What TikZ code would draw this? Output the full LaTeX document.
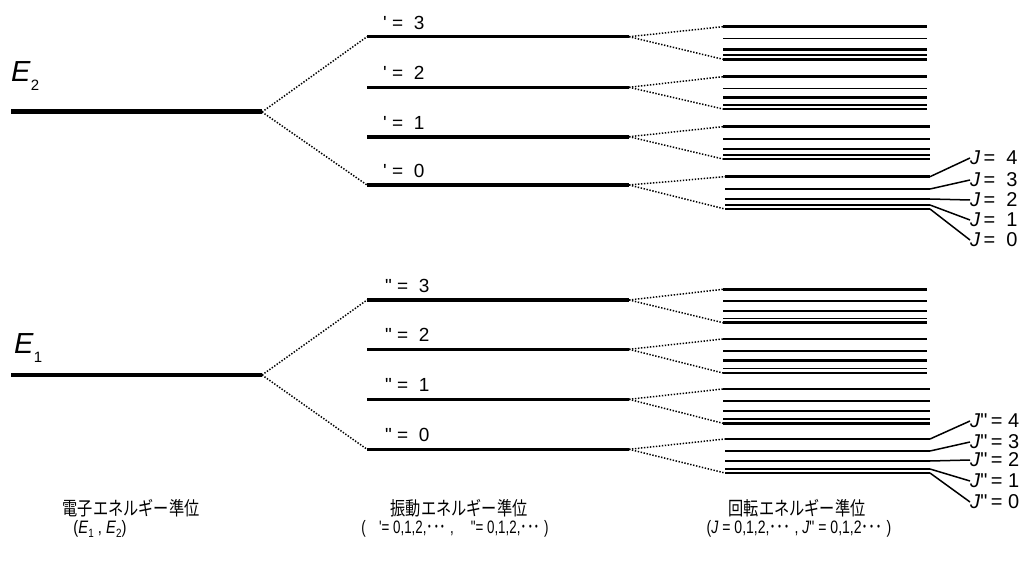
\documentclass[tikz,border=0pt]{standalone}
\usepackage{fontspec}
\setmainfont{Liberation Sans}
\newfontfamily\cjk{Noto Sans CJK JP}
\newcommand{\mysubs}[1]{\raisebox{-0.3em}{\fontsize{15}{15}\selectfont #1}}
\newcommand{\smsubs}[1]{\raisebox{-0.25em}{\fontsize{12}{12}\selectfont #1}}
\begin{document}
\begin{tikzpicture}[x=1pt,y=-1pt,
  fan/.style={line width=1.5pt, dash pattern=on 1.4pt off 1.6pt},
  jcon/.style={line width=1.5pt},
  vlab/.style={anchor=west, inner sep=0pt, font=\fontsize{19}{19}\selectfont},
  jlab/.style={anchor=west, inner sep=0pt, font=\fontsize{20}{20}\selectfont},
  elab/.style={anchor=west, inner sep=0pt, font=\fontsize{29}{29}\selectfont},
  blab/.style={inner sep=0pt, font=\fontsize{19}{19}\selectfont},
  slab/.style={inner sep=0pt, font=\fontsize{18}{18}\selectfont}]
\useasboundingbox (0,0) rectangle (1023,567);
\clip (0,0) rectangle (1023,567);
% electronic levels
\coordinate (E2l) at (11,112); \coordinate (E2r) at (262,112);
\coordinate (E1l) at (11,375); \coordinate (E1r) at (262,375);
\draw[line width=5pt] (E2l) -- (E2r);
\draw[line width=3.2pt] (E1l) -- (E1r);
\node[elab] (E2lab) at (11,76) {\textit{E}\mysubs{2}};
\node[elab] (E1lab) at (14,348) {\textit{E}\mysubs{1}};
% vibrational levels, upper
\foreach \n/\y/\w in {3/36.7/2.8, 2/87.3/2.8, 1/136.7/4, 0/185/4}{
  \coordinate (vu\n l) at (367,\y); \coordinate (vu\n r) at (629,\y);
  \draw[line width=\w pt] (vu\n l) -- (vu\n r);
  \node[vlab] (vul\n) at (383,\y-14) {\textquotesingle~=~~\n};
}
% vibrational levels, lower
\foreach \n/\y/\w in {3/300/4, 2/349.3/2.8, 1/399.3/3.2, 0/449.3/3.2}{
  \coordinate (vl\n l) at (367,\y); \coordinate (vl\n r) at (629,\y);
  \draw[line width=\w pt] (vl\n l) -- (vl\n r);
  \node[vlab] (vll\n) at (385,\y-14) {\textquotedbl~=~~\n};
}
% rotational levels
\foreach \s/\g/\xl/\xr/\ya/\yb/\yc/\yd/\ye/\wb/\we in {
  u/3/723/927/26.7/38.3/49.3/55/59.3/1.4/2.7,
  u/2/723/927/76.7/88.3/97.3/105/109/1.4/2.7,
  u/1/723/930/126.7/139/149/155/159/2.7/2.7,
  u/0/725/930/176.7/189/199/205/209/2.7/2.7,
  l/3/723/927/289.3/301/311/318.3/322.7/2.7/1.4,
  l/2/723/927/339/351/360.7/368.3/373/2.7/1.4,
  l/1/723/930/389/401/411/419/423.3/2.7/2.7,
  l/0/725/930/439/451/461/469/473/2.7/2.7}{
  \foreach \k/\y/\w in {1/\ya/2.8, 2/\yb/\wb, 3/\yc/2.7, 4/\yd/\we, 5/\ye/2.6}{
    \coordinate (r\s\g\k L) at (\xl,\y); \coordinate (r\s\g\k R) at (\xr,\y);
    \draw[line width=\w pt] (r\s\g\k L) -- (r\s\g\k R);
  }
  \draw[fan] (v\s\g r) -- (r\s\g1L);
  \draw[fan] (v\s\g r) -- (r\s\g5L);
}
% electronic to vibrational fans
\draw[fan] (E2r) -- (vu3l);
\draw[fan] (E2r) -- (vu0l);
\draw[fan] (E1r) -- (vl3l);
\draw[fan] (E1r) -- (vl0l);
% J labels
\foreach \j/\k/\y in {4/1/158, 3/2/180, 2/3/200, 1/4/220, 0/5/240}{
  \node[jlab] (ju\j) at (970,\y) {\textit{J}\,=~~\j};
  \draw[jcon] (ru0\k R) -- (ju\j.west);
}
\foreach \j/\k/\y in {4/1/421, 3/2/442, 2/3/460, 1/4/481, 0/5/502}{
  \node[jlab] (jl\j) at (970,\y) {\textit{J}\textquotedbl\,=~\j};
  \draw[jcon] (rl0\k R) -- (jl\j.west);
}
% bottom captions
\node[blab] (cap1) at (131,508) {\scalebox{0.8}[1]{\cjk 電子エネルギー準位}};
\node[slab] (cap1b) at (100,529) {\scalebox{0.82}[1]{(\textit{E}\smsubs{1} , \textit{E}\smsubs{2})}};
\node[blab] (cap2) at (459,508) {\scalebox{0.8}[1]{\cjk 振動エネルギー準位}};
\node[slab] (cap2b) at (455,529) {\scalebox{0.74}[1]{(\quad\textquotesingle= 0,1,2,{\cjk ･･･} ,\quad\ \textquotedbl= 0,1,2,{\cjk ･･･} )}};
\node[blab] (cap3) at (797,508) {\scalebox{0.8}[1]{\cjk 回転エネルギー準位}};
\node[slab] (cap3b) at (799,529) {\scalebox{0.78}[1]{(\textit{J} = 0,1,2,{\cjk ･･･} , \textit{J}\textquotedbl\ = 0,1,2{\cjk ･･･} )}};
\end{tikzpicture}
\end{document}
